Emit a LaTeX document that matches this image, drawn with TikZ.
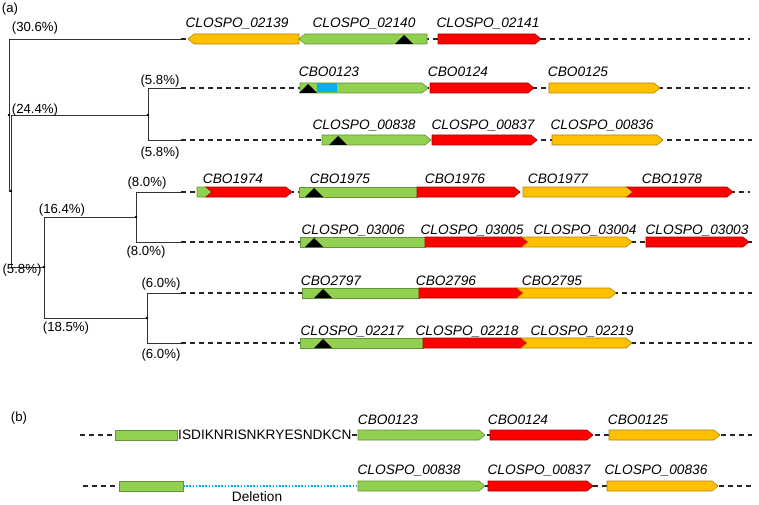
\documentclass[tikz,border=0pt]{standalone}
\usepackage{fontspec}
\setmainfont{Liberation Sans}
\definecolor{grn}{RGB}{146,208,80}
\definecolor{orng}{RGB}{255,192,0}
\definecolor{rd}{RGB}{255,0,0}
\definecolor{blu}{RGB}{0,176,240}
\tikzset{
  gene/.style={fill=#1, draw=#1!70!black, line width=0.6pt},
  branch/.style={line width=0.9pt, black!80},
  spacer/.style={line width=1.1pt, black!85, dash pattern=on 5pt off 4pt},
  gap/.style={line width=1.3pt, blu, dash pattern=on 1.6pt off 1.6pt},
  glabel/.style={font=\fontsize{13.7}{16}\selectfont\itshape, anchor=base, inner sep=0pt},
  pct/.style={font=\fontsize{13.2}{15}\selectfont, inner sep=0pt},
  seqtxt/.style={font=\fontsize{13.7}{16}\selectfont, inner sep=0pt},
}
% gene shapes: x1, x2, y, colour
\newcommand{\genefwd}[4]{\filldraw[gene=#4] (#1,#3-5) -- (#2-6,#3-5) -- (#2,#3) -- (#2-6,#3+5) -- (#1,#3+5) -- cycle;}
\newcommand{\generev}[4]{\filldraw[gene=#4] (#1,#3) -- (#1+6,#3-5) -- (#2,#3-5) -- (#2,#3+5) -- (#1+6,#3+5) -- cycle;}
\newcommand{\genenotch}[4]{\filldraw[gene=#4] (#1,#3-5) -- (#2-6,#3-5) -- (#2,#3) -- (#2-6,#3+5) -- (#1,#3+5) -- (#1+6,#3) -- cycle;}
\newcommand{\geneblk}[4]{\filldraw[gene=#4] (#1,#3-5) rectangle (#2,#3+5);}
\newcommand{\mutn}[2]{\fill (#1-9,#2+5) -- (#1,#2-4) -- (#1+9,#2+5) -- cycle;}
\begin{document}
\begin{tikzpicture}[x=1pt,y=-1pt]
  \useasboundingbox (0,0) rectangle (759,505);
  \node[pct] (parta) at (10,9) {(a)};
  \node[pct] (partb) at (19,418) {(b)};

  % tree
  \coordinate (root) at (9,115);
  \coordinate (inner) at (11,191);
  \coordinate (lower) at (44,267);
  \coordinate (c0123) at (148,115);
  \coordinate (c1974) at (136,217);
  \coordinate (c2797) at (147,318);
  \coordinate (l02139) at (181,39);
  \coordinate (l0123) at (181,88);
  \coordinate (l00838) at (181,140);
  \coordinate (l1974) at (181,192);
  \coordinate (l03006) at (181,242);
  \coordinate (l2797) at (181,293);
  \coordinate (l02217) at (181,343);
  \draw[branch] (root) |- (l02139);
  \draw[branch] (root) |- (inner);
  \draw[branch] (inner) |- (c0123);
  \draw[branch] (inner) |- (lower);
  \draw[branch] (c0123) |- (l0123);
  \draw[branch] (c0123) |- (l00838);
  \draw[branch] (lower) |- (c1974);
  \draw[branch] (lower) |- (c2797);
  \draw[branch] (c1974) |- (l1974);
  \draw[branch] (c1974) |- (l03006);
  \draw[branch] (c2797) |- (l2797);
  \draw[branch] (c2797) |- (l02217);
  \foreach \n in {root,inner,lower,c0123,c1974,c2797}
    \fill (\n) circle (1.3pt);

  \node[pct] (p306) at (35,28) {(30.6\%)};
  \node[pct] (p244) at (35,110) {(24.4\%)};
  \node[pct] (p58a) at (160,81) {(5.8\%)};
  \node[pct] (p58b) at (160,153) {(5.8\%)};
  \node[pct] (p80a) at (147,183) {(8.0\%)};
  \node[pct] (p80b) at (146,252) {(8.0\%)};
  \node[pct] (p164) at (62,210) {(16.4\%)};
  \node[pct] (p58c) at (22,270) {(5.8\%)};
  \node[pct] (p185) at (66,328) {(18.5\%)};
  \node[pct] (p60a) at (161,284) {(6.0\%)};
  \node[pct] (p60b) at (161,355) {(6.0\%)};

  % spacer lines
  \coordinate (r02139) at (750,39);
  \coordinate (r0123) at (750,88);
  \coordinate (r00838) at (752,140);
  \coordinate (r1974) at (750,192);
  \coordinate (r03006) at (752,242);
  \coordinate (r2797) at (752,293);
  \coordinate (r02217) at (752,343);
  \draw[spacer] (l02139) -- (r02139);
  \draw[spacer] (l0123) -- (r0123);
  \draw[spacer] (l00838) -- (r00838);
  \draw[spacer] (l1974) -- (r1974);
  \draw[spacer] (l03006) -- (r03006);
  \draw[spacer] (l2797) -- (r2797);
  \draw[spacer] (l02217) -- (r02217);

  % row 1
  \generev{188}{299}{39}{orng}
  \generev{299}{427}{39}{grn}
  \mutn{404}{39}
  \genefwd{438}{541}{39}{rd}
  \node[glabel] (g02139) at (237,28) {CLOSPO\_02139};
  \node[glabel] (g02140) at (364,28) {CLOSPO\_02140};
  \node[glabel] (g02141) at (488,28) {CLOSPO\_02141};

  % row 2
  \genefwd{300}{428}{88}{grn}
  \fill[blu] (317,83.5) rectangle (337,92.5);
  \mutn{308}{88}
  \genefwd{430}{534}{88}{rd}
  \genefwd{549}{660}{88}{orng}
  \node[glabel] (g0123) at (329,77) {CBO0123};
  \node[glabel] (g0124) at (458,77) {CBO0124};
  \node[glabel] (g0125) at (578,77) {CBO0125};

  % row 3
  \genefwd{322}{431}{140}{grn}
  \mutn{338}{140}
  \genefwd{432}{537}{140}{rd}
  \genefwd{552}{663}{140}{orng}
  \node[glabel] (g00838) at (364,130) {CLOSPO\_00838};
  \node[glabel] (g00837) at (483,130) {CLOSPO\_00837};
  \node[glabel] (g00836) at (602,130) {CLOSPO\_00836};

  % row 4
  \genefwd{197}{212}{192}{grn}
  \genenotch{206}{292}{192}{rd}
  \geneblk{299}{417}{192}{grn}
  \genefwd{417}{520}{192}{rd}
  \mutn{314}{192}
  \genefwd{523}{633}{192}{orng}
  \genenotch{627}{733}{192}{rd}
  \node[glabel] (g1974) at (233,183) {CBO1974};
  \node[glabel] (g1975) at (340,183) {CBO1975};
  \node[glabel] (g1976) at (455,183) {CBO1976};
  \node[glabel] (g1977) at (558,183) {CBO1977};
  \node[glabel] (g1978) at (672,183) {CBO1978};

  % row 5
  \geneblk{300}{425}{242}{grn}
  \mutn{314}{242}
  \genefwd{425}{528}{242}{rd}
  \genenotch{522}{632}{242}{orng}
  \genefwd{646}{749}{242}{rd}
  \node[glabel] (g03006) at (353,234) {CLOSPO\_03006};
  \node[glabel] (g03005) at (472,234) {CLOSPO\_03005};
  \node[glabel] (g03004) at (585,234) {CLOSPO\_03004};
  \node[glabel] (g03003) at (697,234) {CLOSPO\_03003};

  % row 6
  \geneblk{302}{419}{293}{grn}
  \mutn{323}{293}
  \genefwd{419}{523}{293}{rd}
  \genenotch{517}{616}{293}{orng}
  \node[glabel] (g2797) at (331,285) {CBO2797};
  \node[glabel] (g2796) at (446,285) {CBO2796};
  \node[glabel] (g2795) at (552,285) {CBO2795};

  % row 7
  \geneblk{300}{423}{343}{grn}
  \mutn{323}{343}
  \genefwd{423}{527}{343}{rd}
  \genenotch{521}{632}{343}{orng}
  \node[glabel] (g02217) at (352,335) {CLOSPO\_02217};
  \node[glabel] (g02218) at (467,335) {CLOSPO\_02218};
  \node[glabel] (g02219) at (582,335) {CLOSPO\_02219};

  % (b) insertion
  \coordinate (b1s) at (80,435);
  \coordinate (b1e) at (115,435);
  \coordinate (b1r) at (752,435);
  \draw[spacer] (b1s) -- (b1e);
  \geneblk{115}{177}{435}{grn}
  \node[seqtxt, anchor=west] (seq) at (178,435) {ISDIKNRISNKRYESNDKCN};
  \draw[spacer] (seq.east) -- (b1r);
  \genefwd{358}{485}{435}{grn}
  \genefwd{490}{593}{435}{rd}
  \genefwd{609}{720}{435}{orng}
  \node[glabel] (h0123) at (388,424) {CBO0123};
  \node[glabel] (h0124) at (518,424) {CBO0124};
  \node[glabel] (h0125) at (638,424) {CBO0125};

  % (b) deletion
  \coordinate (b2s) at (83,486);
  \coordinate (b2e) at (119,486);
  \coordinate (d1) at (183,486);
  \coordinate (d2) at (358,486);
  \coordinate (b2m) at (485,486);
  \coordinate (b2r) at (752,486);
  \draw[spacer] (b2s) -- (b2e);
  \draw[spacer] (b2m) -- (b2r);
  \geneblk{119}{183}{486}{grn}
  \draw[gap] (d1) -- (d2);
  \node[seqtxt] (del) at (257,497) {Deletion};
  \genefwd{358}{485}{486}{grn}
  \genefwd{488}{593}{486}{rd}
  \genefwd{607}{718}{486}{orng}
  \node[glabel] (h00838) at (409,474) {CLOSPO\_00838};
  \node[glabel] (h00837) at (539,474) {CLOSPO\_00837};
  \node[glabel] (h00836) at (656,474) {CLOSPO\_00836};
\end{tikzpicture}
\end{document}
